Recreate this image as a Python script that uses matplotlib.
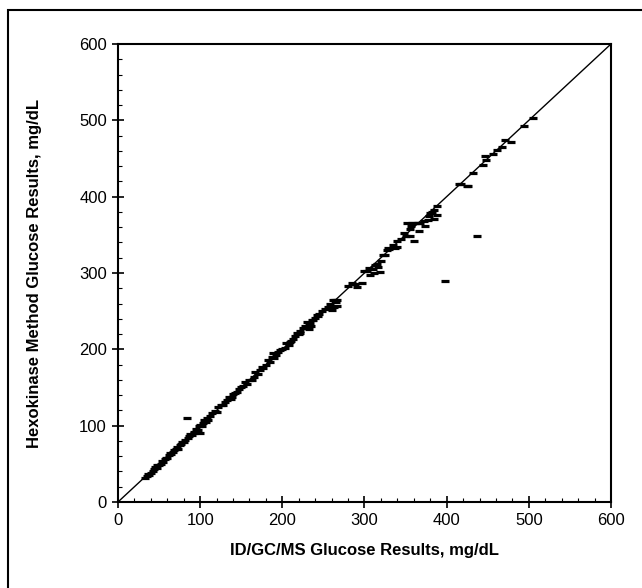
import matplotlib
matplotlib.use("Agg")
import matplotlib.pyplot as plt
from matplotlib.patches import Rectangle
from matplotlib.ticker import MultipleLocator

plt.rcParams['font.family'] = ['Liberation Sans', 'DejaVu Sans']

# reference method (ID/GC/MS) vs hexokinase results, mg/dL
idgcms = [33, 35, 37, 38, 40, 42, 44, 45, 47, 48, 50, 52, 53, 55, 57, 58, 60, 62, 63, 65,
          67, 68, 70, 72, 73, 75, 77, 78, 80, 82, 84, 85, 87, 88, 90, 92, 93, 95, 97, 98,
          100, 100, 102, 104, 105, 107, 108, 110, 112, 115, 118, 120, 122, 125, 128, 130, 133, 135, 137, 139,
          140, 142, 145, 147, 150, 152, 155, 157, 160, 163, 165, 167, 170, 173, 175, 177, 180, 182, 185, 187,
          189, 190, 192, 195, 197, 200, 203, 205, 208, 209, 210, 213, 215, 218, 220, 221, 222, 225, 228, 229,
          230, 232, 233, 234, 235, 236, 237, 240, 242, 243, 245, 248, 252, 255, 258, 260, 262, 263, 264, 265,
          266, 267, 280, 285, 288, 291, 297, 300, 303, 305, 307, 310, 312, 313, 315, 316, 319, 320, 322, 325,
          327, 329, 330, 335, 337, 339, 340, 345, 348, 350, 352, 355, 355, 357, 358, 360, 362, 365, 366, 368,
          372, 374, 377, 378, 380, 382, 385, 385, 388, 388, 398, 415, 418, 425, 426, 432, 437, 444, 447, 448,
          457, 461, 467, 471, 478, 494, 505]
hexokinase = [32, 34, 36, 35, 38, 41, 43, 46, 45, 48, 49, 50, 54, 53, 56, 58, 58, 61, 64, 63,
              66, 68, 69, 72, 70, 74, 76, 78, 79, 81, 110, 84, 86, 89, 88, 92, 91, 96, 94, 99,
              101, 90, 100, 104, 107, 105, 110, 108, 113, 116, 119, 118, 124, 127, 127, 131, 133, 137, 135, 138,
              141, 143, 144, 148, 150, 152, 157, 155, 160, 160, 164, 170, 168, 173, 177, 175, 180, 186, 184, 190,
              195, 188, 193, 197, 199, 201, 202, 208, 206, 210, 211, 214, 217, 221, 220, 221, 224, 228, 230, 229,
              236, 233, 227, 234, 231, 238, 238, 241, 245, 244, 246, 250, 253, 256, 260, 252, 264, 256, 265, 262,
              257, 265, 283, 287, 286, 281, 287, 303, 302, 306, 298, 305, 300, 310, 312, 308, 301, 316, 323, 324,
              330, 333, 332, 336, 333, 334, 342, 344, 352, 348, 366, 358, 348, 361, 365, 342, 365, 365, 355, 366,
              368, 362, 370, 375, 378, 380, 383, 371, 388, 376, 290, 417, 417, 414, 414, 431, 348, 441, 453, 448,
              456, 461, 465, 474, 471, 493, 503]

fig = plt.figure(figsize=(6.42, 5.88), dpi=100)
ax = fig.add_axes([0.1838, 0.1463, 0.7679, 0.7789])

ax.plot([0, 600], [0, 600], color='black', linewidth=1.0)
ax.plot(idgcms, hexokinase, linestyle='none', marker='_', markersize=5.5,
        markeredgewidth=2.3, color='black')

ax.set_xlim(0, 600)
ax.set_ylim(0, 600)
ax.xaxis.set_major_locator(MultipleLocator(100))
ax.yaxis.set_major_locator(MultipleLocator(100))
ax.xaxis.set_minor_locator(MultipleLocator(20))
ax.yaxis.set_minor_locator(MultipleLocator(20))
ax.tick_params(which='major', direction='inout', length=8, width=1.2, labelsize=12, pad=4)
ax.tick_params(which='minor', direction='in', length=3, width=0.8)
for s in ax.spines.values():
    s.set_linewidth(1.5)

ax.set_xlabel('ID/GC/MS Glucose Results, mg/dL', fontsize=12, fontweight='bold', labelpad=11)
ax.set_ylabel('Hexokinase Method Glucose Results, mg/dL', fontsize=12, fontweight='bold', labelpad=27)

# outer frame (right and bottom edges fall outside the image)
fig.add_artist(Rectangle((8 / 642, -0.1), 1.2, 1.1 - 10 / 588, transform=fig.transFigure,
                         fill=False, edgecolor='black', linewidth=1.5, clip_on=False))

fig.savefig('out.png', dpi=100)
